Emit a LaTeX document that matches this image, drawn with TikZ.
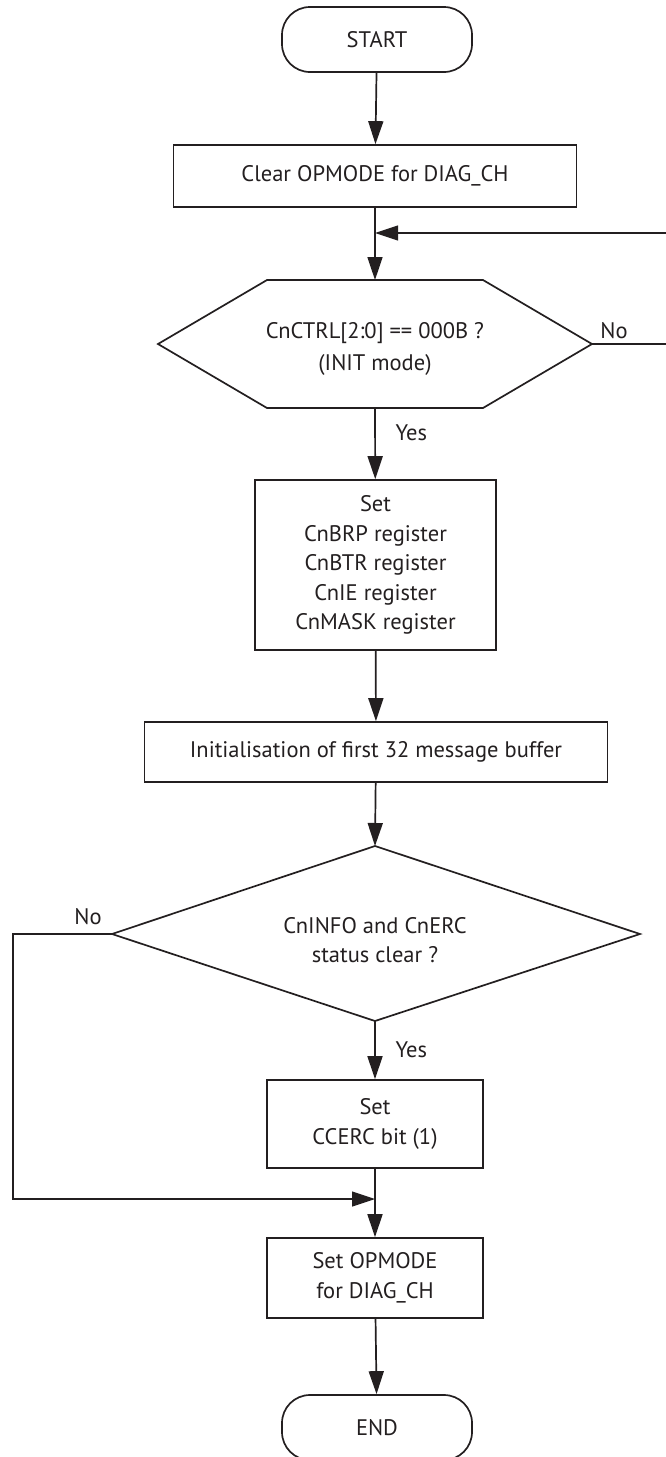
\documentclass[tikz,border=0pt]{standalone}
\usepackage{fontspec}
\setmainfont{PT Sans}
\usetikzlibrary{arrows.meta}
\definecolor{ink}{HTML}{231F20}
\begin{document}
\begin{tikzpicture}[x=1pt,y=-1pt,
  every node/.style={font=\fontsize{22.5}{29.5}\selectfont, text=ink},
  box/.style={draw=ink, line width=1.7pt, align=center, inner sep=0pt},
  term/.style={box, rounded corners=28pt},
  shapeline/.style={draw=ink, line width=1.7pt, line join=miter},
  arr/.style={draw=ink, line width=1.7pt, -{Triangle[length=23pt,width=15pt]}},
  back/.style={draw=ink, line width=1.1pt},
  backarr/.style={back, -{Triangle[length=23pt,width=15pt]}}]
\useasboundingbox (0,0) rectangle (666,1457);
\clip (0,0) rectangle (666,1457);

% nodes
\node[term, minimum width=190pt, minimum height=65pt] (start) at (377,39.5) {START};
\node[box, minimum width=403pt, minimum height=62pt] (clear) at (375,176) {Clear OPMODE for DIAG\_CH};
\coordinate (m1) at (375,233);

% hexagon decision
\coordinate (htop) at (375,280);
\coordinate (hbot) at (375,408);
\coordinate (hl) at (158,344);
\coordinate (hr) at (592,344);
\path[shapeline] (hl) -- (267,280) -- (483,280) -- (hr) -- (483,408) -- (267,408) -- cycle;
\node[align=center, font=\fontsize{22.5}{32}\selectfont] (hex) at (375,349) {CnCTRL[2:0] == 000B ?\\(INIT mode)};

\node[box, minimum width=241pt, minimum height=170pt] (set) at (375.5,565)
  {Set\\CnBRP register\\CnBTR register\\CnIE register\\CnMASK register};
\node[box, minimum width=463pt, minimum height=60pt] (init) at (376,752) {Initialisation of first 32 message buffer};

% diamond decision
\coordinate (dtop) at (375,846);
\coordinate (dbot) at (375,1021);
\coordinate (dl) at (112,934);
\coordinate (dr) at (640,934);
\path[shapeline] (dtop) -- (dr) -- (dbot) -- (dl) -- cycle;
\node[align=center] (dia) at (375,940) {CnINFO and CnERC\\status clear ?};

\node[box, minimum width=216pt, minimum height=88pt] (ccerc) at (375,1124) {Set\\CCERC bit (1)};
\coordinate (m2) at (375,1199);
\node[box, minimum width=216pt, minimum height=80pt] (opm) at (375,1278) {Set OPMODE\\for DIAG\_CH};
\node[term, minimum width=190pt, minimum height=65pt] (end) at (377,1427.5) {END};

% connectors
\draw[arr] (start) -- (clear);
\draw[arr] (clear) -- (htop);
\draw[backarr] (hr) -- (668,344) -- (668,233) -- (m1);
\node at (614,331) {No};
\draw[arr] (hbot) -- (set);
\node[anchor=west] at (392,433) {Yes};
\draw[arr] (set) -- (init);
\draw[arr] (init) -- (dtop);
\draw[arr] (dbot) -- (ccerc);
\node[anchor=west] at (392,1050) {Yes};
\draw[backarr] (dl) -- (13,934) -- (13,1199) -- (m2);
\node at (88,917) {No};
\draw[arr] (ccerc) -- (opm);
\draw[arr] (opm) -- (end);
\end{tikzpicture}
\end{document}
